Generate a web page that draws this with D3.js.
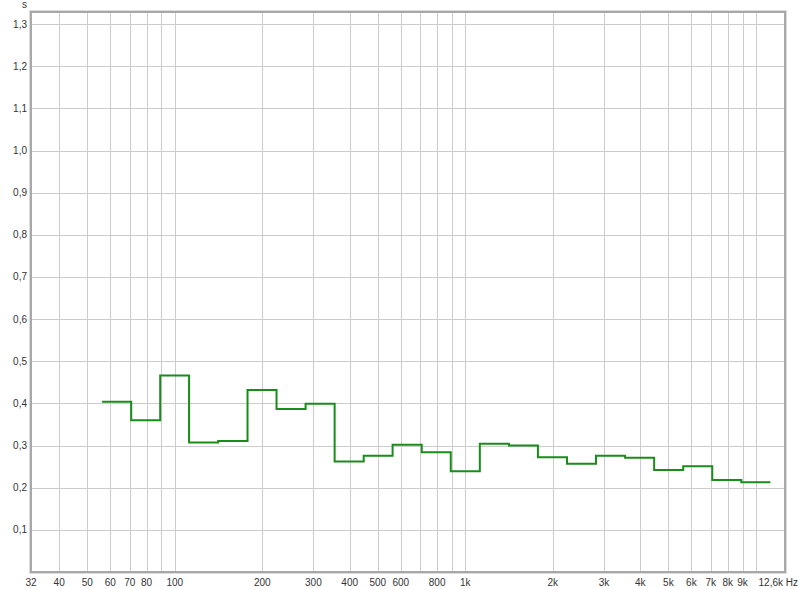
<!DOCTYPE html>
<html><head><meta charset="utf-8">
<script src="https://cdn.jsdelivr.net/npm/d3@7"></script>
<style>body{margin:0;background:#fff}svg{display:block}text{font-family:"Liberation Sans",Arial,sans-serif;font-size:10px;fill:#333}</style>
</head><body>
<svg id="c" width="800" height="589"></svg>
<script>
// 1/3-octave band edges (Hz) and measured values (s)
const bandEdges = [56.2, 70.8, 89.1, 112, 141, 178, 224, 282, 355, 447, 562, 708, 891, 1122, 1413, 1778, 2239, 2818, 3548, 4467, 5623, 7079, 8913, 11220];
const bandCenters = [63, 80, 100, 125, 160, 200, 250, 315, 400, 500, 630, 800, 1000, 1250, 1600, 2000, 2500, 3150, 4000, 5000, 6300, 8000, 10000];
const values = [0.404, 0.360, 0.466, 0.307, 0.311, 0.432, 0.387, 0.399, 0.262, 0.276, 0.302, 0.284, 0.239, 0.304, 0.300, 0.272, 0.257, 0.276, 0.271, 0.242, 0.251, 0.218, 0.213];
const xGrid = [40,50,60,70,80,90,100,200,300,400,500,600,700,800,900,1000,2000,3000,4000,5000,6000,7000,8000,9000,10000];
const xTickVals = [32,40,50,60,70,80,100,200,300,400,500,600,800,1000,2000,3000,4000,5000,6000,7000,8000,9000];
const xTickLabels = ["32","40","50","60","70","80","100","200","300","400","500","600","800","1k","2k","3k","4k","5k","6k","7k","8k","9k"];
const yTicks = [0.1,0.2,0.3,0.4,0.5,0.6,0.7,0.8,0.9,1.0,1.1,1.2,1.3];
const xMin = 32, xMax = 12600, yMax = 1.3286;

const svg = d3.select("#c");
const L=31, R=785, T=12, B=572;
const x = d3.scaleLog().domain([xMin, xMax]).range([L, R]);
const y = d3.scaleLinear().domain([0, yMax]).range([B, T]);

// grid
const g = svg.append("g");
g.selectAll("line.vx").data(xGrid).join("line")
  .attr("x1", d=>Math.round(x(d))+0.5).attr("x2", d=>Math.round(x(d))+0.5)
  .attr("y1", T).attr("y2", B).attr("stroke", "#cccccc").attr("stroke-width", 1);
g.selectAll("line.hy").data(yTicks).join("line")
  .attr("y1", d=>Math.round(y(d))+0.5).attr("y2", d=>Math.round(y(d))+0.5)
  .attr("x1", L).attr("x2", R).attr("stroke", "#cccccc").attr("stroke-width", 1);

// frame
svg.append("rect").attr("x", L-1.5).attr("y", T-1.5).attr("width", R-L+3).attr("height", B-T+3)
  .attr("fill","none").attr("stroke","#dcdcdc").attr("stroke-width",1);
svg.append("rect").attr("x", L).attr("y", T).attr("width", R-L).attr("height", B-T)
  .attr("fill","none").attr("stroke","#a8a8a8").attr("stroke-width",2);

// axis labels
svg.selectAll("text.xt").data(xTickVals).join("text")
  .attr("x", d=>x(d)).attr("y", 586).attr("text-anchor","middle")
  .text((d,i)=>xTickLabels[i]);
svg.append("text").attr("x", 798).attr("y", 586).attr("text-anchor","end").text("12,6k Hz");
svg.selectAll("text.yt").data(yTicks).join("text")
  .attr("x", 27).attr("y", d=>y(d)+3.5).attr("text-anchor","end")
  .text(d=>d.toFixed(1).replace(".", ","));
svg.append("text").attr("x", 27).attr("y", 8).attr("text-anchor","end").text("s");

// step line
const pts = values.map((v,i)=>[bandEdges[i], v]);
pts.push([bandEdges[bandEdges.length-1], values[values.length-1]]);
const line = d3.line().x(d=>x(d[0])).y(d=>y(d[1])).curve(d3.curveStepAfter);
svg.append("path").attr("d", line(pts)).attr("fill","none")
  .attr("stroke","#1a8c1a").attr("stroke-width",2).attr("stroke-linejoin","miter");
</script>
</body></html>
